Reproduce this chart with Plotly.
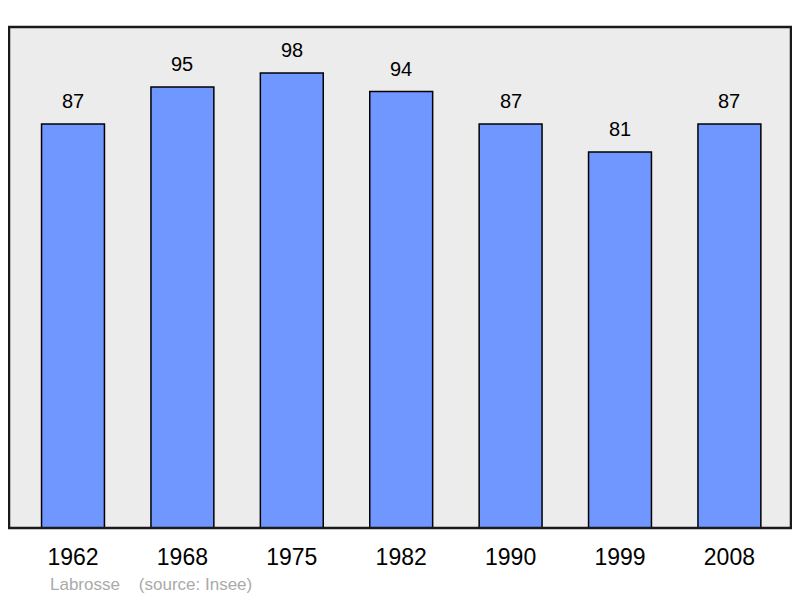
import plotly.graph_objects as go

# Data
years = ["1962", "1968", "1975", "1982", "1990", "1999", "2008"]
population = [87, 95, 98, 94, 87, 81, 87]

positions = list(range(len(years)))
font_family = "Liberation Sans, Arial, sans-serif"

fig = go.Figure()

fig.add_trace(go.Bar(
    x=positions,
    y=population,
    width=0.575,
    marker=dict(color="#7096ff", line=dict(color="black", width=1.5)),
    hoverinfo="skip",
))

# value labels above the bars
for xp, v in zip(positions, population):
    fig.add_annotation(x=xp, y=v, text=str(v), showarrow=False,
                       yanchor="bottom", yshift=10,
                       font=dict(family=font_family, size=20, color="black"))

# frame around the plot area
fig.add_shape(type="rect", xref="paper", yref="paper", x0=0, y0=0, x1=1, y1=1,
              line=dict(color="#1a1a1a", width=2.5), layer="above")

fig.add_annotation(
    text="Labrosse &nbsp;&nbsp;&nbsp;(source: Insee)",
    xref="paper", yref="paper", x=39 / 783, y=-0.112,
    xanchor="left", yanchor="middle", showarrow=False,
    font=dict(family=font_family, size=17, color="#aaaaaa"),
)

fig.update_layout(
    width=792, height=590,
    margin=dict(l=1, r=9, t=19, b=70),
    paper_bgcolor="white",
    plot_bgcolor="#ececec",
    showlegend=False,
    xaxis=dict(
        range=[-0.585, 6.563],
        tickvals=positions,
        ticktext=years,
        showgrid=False, zeroline=False,
        ticks="outside", ticklen=8, tickcolor="rgba(0,0,0,0)",
        tickfont=dict(family=font_family, size=23, color="black"),
    ),
    yaxis=dict(range=[0, 107.9], showgrid=False, zeroline=False, showticklabels=False),
)

fig.write_html("out.html")
